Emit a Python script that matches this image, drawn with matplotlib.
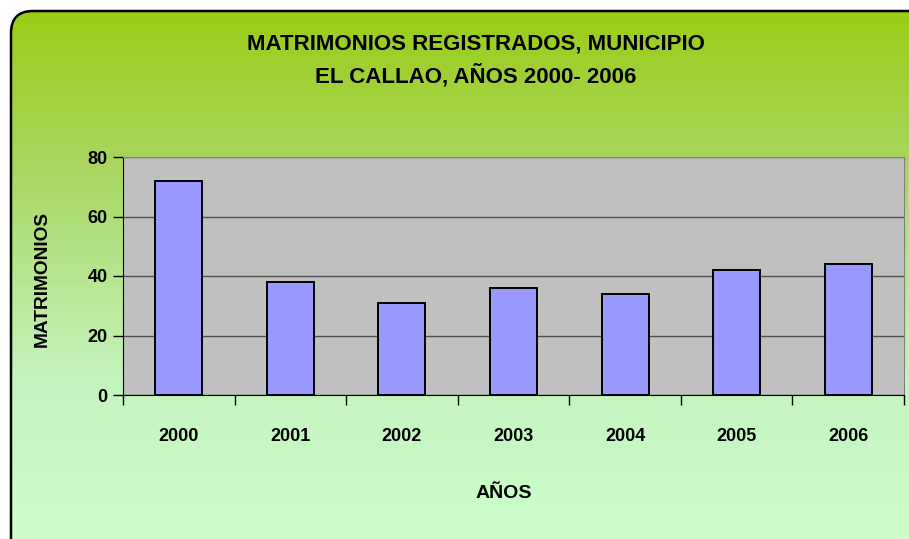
import matplotlib.pyplot as plt
import numpy as np
from matplotlib.patches import FancyBboxPatch
from matplotlib.colors import LinearSegmentedColormap

years = ['2000', '2001', '2002', '2003', '2004', '2005', '2006']
matrimonios = [72, 38, 31, 36, 34, 42, 44]
yticks = [0, 20, 40, 60, 80]

plt.rcParams['font.family'] = ['Liberation Sans', 'DejaVu Sans']
plt.rcParams['font.weight'] = 'bold'

W, H = 909, 539
fig = plt.figure(figsize=(W / 100, H / 100), dpi=100)
fig.patch.set_facecolor('white')

# fondo degradado con borde redondeado
bg = fig.add_axes([0, 0, 1, 1])
bg.set_xlim(0, W)
bg.set_ylim(H, 0)
bg.axis('off')
box = FancyBboxPatch((11, 11), W + 20, H + 20, boxstyle='round,pad=0,rounding_size=22',
                     facecolor='none', edgecolor='black', linewidth=1.8, zorder=3)
bg.add_patch(box)
cmap = LinearSegmentedColormap.from_list('g', [(0, '#99cc11'), (0.3, '#a8d65e'),
                                               (0.7, '#c4f4be'), (1, '#ccffcc')])
grad = np.linspace(0, 1, 256).reshape(-1, 1)
im = bg.imshow(grad, cmap=cmap, extent=[0, W, H, 0], aspect='auto', zorder=1)
im.set_clip_path(box)

ax = fig.add_axes([123 / W, 1 - 395 / H, (904 - 123) / W, (395 - 157) / H])
ax.set_facecolor('#c0c0c0')
x = np.arange(len(years))
ax.bar(x, matrimonios, width=0.42, color='#9999ff', edgecolor='black', linewidth=1.4, zorder=3)
ax.set_xlim(-0.5, len(years) - 0.5)
ax.set_ylim(0, 80)
ax.set_yticks(yticks)
ax.yaxis.grid(True, color='#505050', linewidth=1, zorder=1)
ax.set_axisbelow(True)
ax.set_xticks(np.arange(-0.5, len(years), 1))
ax.set_xticklabels([])
ax.set_xticks(x, minor=True)
ax.set_xticklabels(years, minor=True, fontsize=13, fontweight='bold')
ax.tick_params(axis='x', which='minor', length=0, pad=24)
ax.tick_params(axis='x', which='major', length=7, width=1, direction='out')
ax.tick_params(axis='y', length=7, width=1, labelsize=13, pad=4)
for lab in ax.get_yticklabels():
    lab.set_fontweight('bold')
for s in ['top', 'right']:
    ax.spines[s].set_color('#808080')
for s in ['left', 'bottom']:
    ax.spines[s].set_color('black')

fig.text(476 / W, 1 - 44 / H, 'MATRIMONIOS REGISTRADOS, MUNICIPIO', ha='center', va='center',
         fontsize=16, fontweight='bold')
fig.text(476 / W, 1 - 76 / H, 'EL CALLAO, AÑOS 2000- 2006', ha='center', va='center',
         fontsize=16, fontweight='bold')
fig.text(42 / W, 1 - 279 / H, 'MATRIMONIOS', rotation=90, ha='center', va='center',
         fontsize=13.8, fontweight='bold')
fig.text(504 / W, 1 - 494 / H, 'AÑOS', ha='center', va='center', fontsize=14, fontweight='bold')

fig.savefig('out.png', dpi=100)
